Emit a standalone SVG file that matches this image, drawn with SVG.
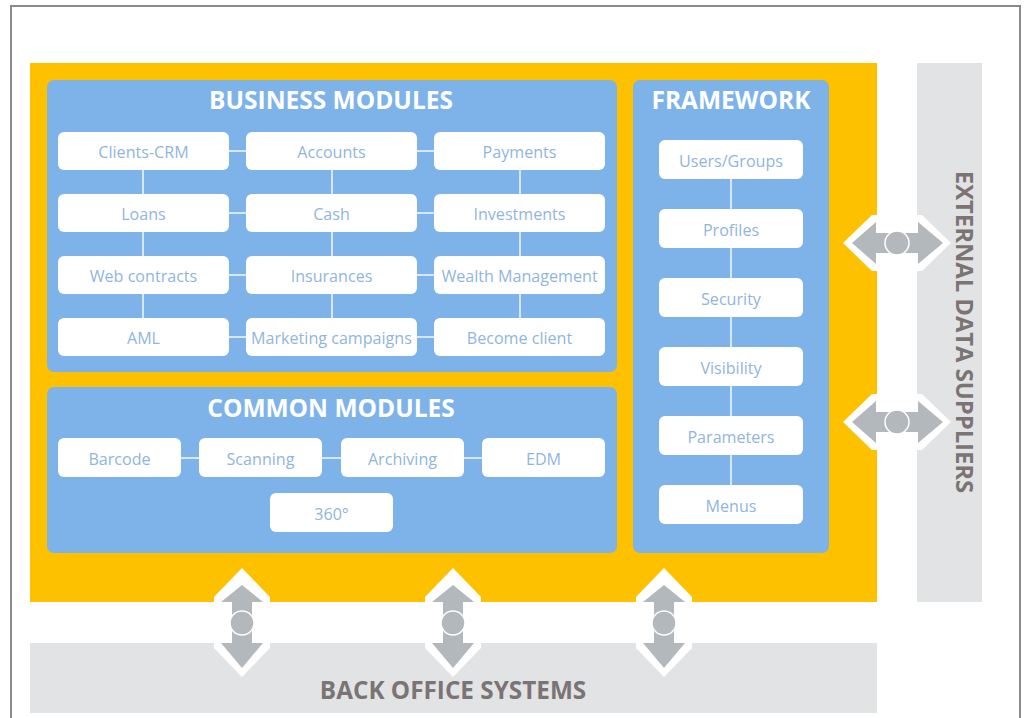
<svg xmlns="http://www.w3.org/2000/svg" width="1026" height="718" viewBox="0 0 1026 718">
<style>
.panel{fill:#7eb3e9}
.box{fill:#ffffff}
.bt{font-family:"Open Sans","Liberation Sans",sans-serif;font-size:16.1px;fill:#8fb6e0;text-anchor:middle}
.title{font-family:"Open Sans","Liberation Sans",sans-serif;font-size:24.5px;font-weight:bold;fill:#ffffff;text-anchor:middle}
.gt{font-family:"Open Sans","Liberation Sans",sans-serif;font-size:24.3px;font-weight:bold;fill:#7b7374;text-anchor:middle}
.gv{font-size:23.8px}
.ln{stroke:#d6e7f8;stroke-width:2;fill:none}
.aw{fill:#ffffff}
.ag{fill:#b3b8bd}
.ac{fill:#b3b8bd;stroke:#ffffff;stroke-width:1.5}
</style>
<rect x="0" y="0" width="1026" height="718" fill="#ffffff"/>
<rect x="11" y="6" width="1009" height="730" fill="none" stroke="#8a8a8a" stroke-width="2"/>
<rect x="30" y="63" width="847" height="539" fill="#fdc100"/>
<g id="back-office">
<rect x="30" y="643" width="847" height="70" fill="#e2e3e4"/>
<text class="gt" x="453" y="699">BACK OFFICE SYSTEMS</text>
</g>
<g id="external-data">
<rect x="917" y="63" width="65" height="539" fill="#e2e3e4"/>
<text class="gt gv" transform="translate(956,332) rotate(90)" x="0" y="0">EXTERNAL DATA SUPPLIERS</text>
</g>
<g id="business-modules">
<rect class="panel" x="47" y="80" width="570" height="292" rx="7"/>
<text class="title" x="331" y="109">BUSINESS MODULES</text>
</g>
<g id="common-modules">
<rect class="panel" x="47" y="387" width="570" height="166" rx="7"/>
<text class="title" x="331" y="417">COMMON MODULES</text>
</g>
<g id="framework">
<rect class="panel" x="633" y="80" width="196" height="473" rx="7"/>
<text class="title" x="731" y="109">FRAMEWORK</text>
</g>
<g id="connectors">
<path class="ln" d="M229,151H246M417,151H434M229,213H246M417,213H434M229,275H246M417,275H434M229,337H246M417,337H434"/>
<path class="ln" d="M143,170V194M143,232V256M143,294V318M332,170V194M332,232V256M332,294V318M520,170V194M520,232V256M520,294V318"/>
<path class="ln" d="M181,458H199M322,458H341M464,458H482"/>
<path class="ln" d="M731,179V209M731,248V278M731,317V347M731,386V416M731,455V485"/>
</g>
<g id="clients-crm"><rect class="box" x="58" y="132" width="171" height="38" rx="6"/><text class="bt" x="143.5" y="157.5">Clients-CRM</text></g>
<g id="accounts"><rect class="box" x="246" y="132" width="171" height="38" rx="6"/><text class="bt" x="331.5" y="157.5">Accounts</text></g>
<g id="payments"><rect class="box" x="434" y="132" width="171" height="38" rx="6"/><text class="bt" x="519.5" y="157.5">Payments</text></g>
<g id="loans"><rect class="box" x="58" y="194" width="171" height="38" rx="6"/><text class="bt" x="143.5" y="219.5">Loans</text></g>
<g id="cash"><rect class="box" x="246" y="194" width="171" height="38" rx="6"/><text class="bt" x="331.5" y="219.5">Cash</text></g>
<g id="investments"><rect class="box" x="434" y="194" width="171" height="38" rx="6"/><text class="bt" x="519.5" y="219.5">Investments</text></g>
<g id="web-contracts"><rect class="box" x="58" y="256" width="171" height="38" rx="6"/><text class="bt" x="143.5" y="281.5">Web contracts</text></g>
<g id="insurances"><rect class="box" x="246" y="256" width="171" height="38" rx="6"/><text class="bt" x="331.5" y="281.5">Insurances</text></g>
<g id="wealth-management"><rect class="box" x="434" y="256" width="171" height="38" rx="6"/><text class="bt" x="519.5" y="281.5">Wealth Management</text></g>
<g id="aml"><rect class="box" x="58" y="318" width="171" height="38" rx="6"/><text class="bt" x="143.5" y="343.5">AML</text></g>
<g id="marketing-campaigns"><rect class="box" x="246" y="318" width="171" height="38" rx="6"/><text class="bt" x="331.5" y="343.5">Marketing campaigns</text></g>
<g id="become-client"><rect class="box" x="434" y="318" width="171" height="38" rx="6"/><text class="bt" x="519.5" y="343.5">Become client</text></g>
<g id="barcode"><rect class="box" x="58" y="438" width="123" height="39" rx="6"/><text class="bt" x="119.5" y="464.5">Barcode</text></g>
<g id="scanning"><rect class="box" x="199" y="438" width="123" height="39" rx="6"/><text class="bt" x="260.5" y="464.5">Scanning</text></g>
<g id="archiving"><rect class="box" x="341" y="438" width="123" height="39" rx="6"/><text class="bt" x="402.5" y="464.5">Archiving</text></g>
<g id="edm"><rect class="box" x="482" y="438" width="123" height="39" rx="6"/><text class="bt" x="543.5" y="464.5">EDM</text></g>
<g id="n360"><rect class="box" x="270" y="493" width="123" height="39" rx="6"/><text class="bt" x="331.5" y="519.5">360°</text></g>
<g id="users-groups"><rect class="box" x="659" y="140" width="144" height="39" rx="6"/><text class="bt" x="731" y="166.5">Users/Groups</text></g>
<g id="profiles"><rect class="box" x="659" y="209" width="144" height="39" rx="6"/><text class="bt" x="731" y="235.5">Profiles</text></g>
<g id="security"><rect class="box" x="659" y="278" width="144" height="39" rx="6"/><text class="bt" x="731" y="304.5">Security</text></g>
<g id="visibility"><rect class="box" x="659" y="347" width="144" height="39" rx="6"/><text class="bt" x="731" y="373.5">Visibility</text></g>
<g id="parameters"><rect class="box" x="659" y="416" width="144" height="39" rx="6"/><text class="bt" x="731" y="442.5">Parameters</text></g>
<g id="menus"><rect class="box" x="659" y="485" width="144" height="39" rx="6"/><text class="bt" x="731" y="511.5">Menus</text></g>
<g id="arrows">
<g transform="translate(242,0)">
<polygon class="aw" points="0,568 28,597 28,648 0,677 -28,648 -28,597"/>
<polygon class="ag" points="0,585 21,602 10,602 10,643 21,643 0,668 -21,643 -10,643 -10,602 -21,602"/>
<circle class="ac" cx="0" cy="623" r="12"/>
</g>
<g transform="translate(453,0)">
<polygon class="aw" points="0,568 28,597 28,648 0,677 -28,648 -28,597"/>
<polygon class="ag" points="0,585 21,602 10,602 10,643 21,643 0,668 -21,643 -10,643 -10,602 -21,602"/>
<circle class="ac" cx="0" cy="623" r="12"/>
</g>
<g transform="translate(664,0)">
<polygon class="aw" points="0,568 28,597 28,648 0,677 -28,648 -28,597"/>
<polygon class="ag" points="0,585 21,602 10,602 10,643 21,643 0,668 -21,643 -10,643 -10,602 -21,602"/>
<circle class="ac" cx="0" cy="623" r="12"/>
</g>
<g transform="translate(0,243)">
<polygon class="aw" points="843,0 872,-28 922,-28 951,0 922,28 872,28"/>
<polygon class="ag" points="852,0 876,-21 876,-10 918,-10 918,-21 943,0 918,21 918,10 876,10 876,21"/>
<circle class="ac" cx="897" cy="0" r="12"/>
</g>
<g transform="translate(0,422)">
<polygon class="aw" points="843,0 872,-28 922,-28 951,0 922,28 872,28"/>
<polygon class="ag" points="852,0 876,-21 876,-10 918,-10 918,-21 943,0 918,21 918,10 876,10 876,21"/>
<circle class="ac" cx="897" cy="0" r="12"/>
</g>
</g>
</svg>
